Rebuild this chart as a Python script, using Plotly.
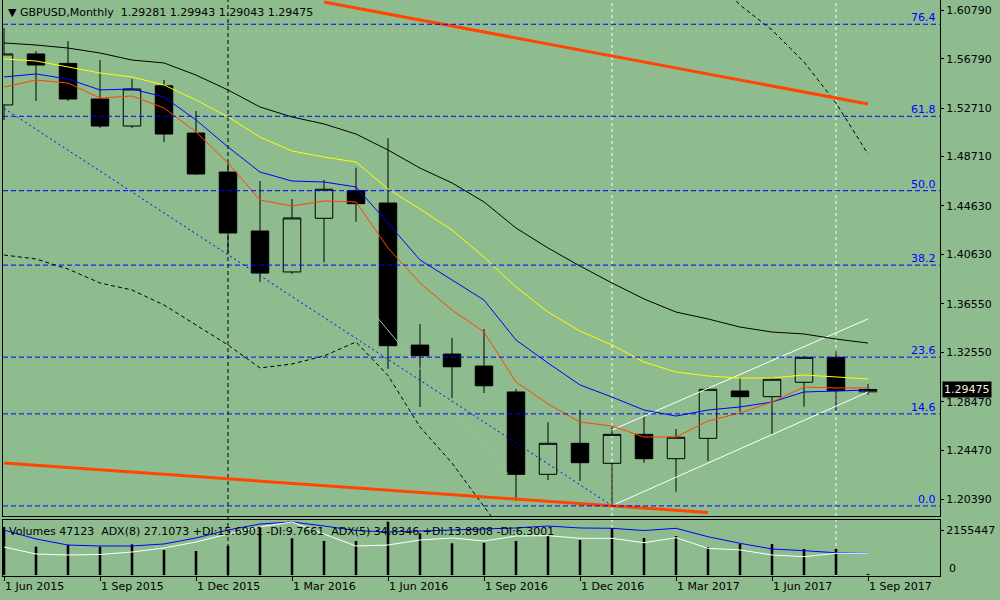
import plotly.graph_objects as go

BG = "#8fbc8f"
FONT = "DejaVu Sans"

months = ["Jun 2015", "Jul 2015", "Aug 2015", "Sep 2015", "Oct 2015", "Nov 2015", "Dec 2015",
          "Jan 2016", "Feb 2016", "Mar 2016", "Apr 2016", "May 2016", "Jun 2016", "Jul 2016",
          "Aug 2016", "Sep 2016", "Oct 2016", "Nov 2016", "Dec 2016", "Jan 2017", "Feb 2017",
          "Mar 2017", "Apr 2017", "May 2017", "Jun 2017", "Jul 2017", "Aug 2017", "Sep 2017"]

opens = [1.5297, 1.5718, 1.5640, 1.5346, 1.5123, 1.5455, 1.5065, 1.4743, 1.4256, 1.3918,
         1.4361, 1.4589, 1.4487, 1.3314, 1.3240, 1.3141, 1.2927, 1.2247, 1.2503, 1.2338,
         1.2577, 1.2376, 1.2544, 1.2935, 1.2888, 1.3007, 1.3213, 1.29281]
highs = [1.5932, 1.5743, 1.5825, 1.5668, 1.5511, 1.5503, 1.5247, 1.4818, 1.4669, 1.4520,
         1.4677, 1.4779, 1.5022, 1.3488, 1.3373, 1.3447, 1.2952, 1.2676, 1.2778, 1.2640,
         1.2723, 1.2621, 1.2965, 1.3048, 1.3045, 1.3224, 1.3265, 1.29943]
lows = [1.5173, 1.5330, 1.5330, 1.5107, 1.5107, 1.4991, 1.4719, 1.4079, 1.3835, 1.3902,
        1.3998, 1.4333, 1.3119, 1.2803, 1.2877, 1.2918, 1.2027, 1.2200, 1.2192, 1.1988,
        1.2343, 1.2103, 1.2357, 1.2764, 1.2580, 1.2805, 1.2772, 1.29043]
closes = [1.5718, 1.5627, 1.5346, 1.5123, 1.5429, 1.5057, 1.4727, 1.4240, 1.3909, 1.4364,
          1.4601, 1.4482, 1.3309, 1.3226, 1.3135, 1.2978, 1.2247, 1.2503, 1.2343, 1.2577,
          1.2376, 1.2553, 1.2949, 1.2888, 1.3032, 1.3213, 1.2938, 1.29475]

# moving averages (black = slowest, red = fastest)
ma_black = [1.5809, 1.5792, 1.5767, 1.5726, 1.5668, 1.5644, 1.5544, 1.5421, 1.5280, 1.5198,
            1.5140, 1.5057, 1.4925, 1.4776, 1.4653, 1.4496, 1.4281, 1.4116, 1.3967, 1.3827,
            1.3695, 1.3587, 1.3530, 1.3463, 1.3422, 1.3406, 1.3364, 1.3331]
ma_yellow = [1.5677, 1.5660, 1.5611, 1.5561, 1.5528, 1.5462, 1.5338, 1.5198, 1.5032, 1.4917,
             1.4867, 1.4826, 1.4603, 1.4438, 1.4264, 1.4041, 1.3794, 1.3587, 1.3430, 1.3315,
             1.3174, 1.3092, 1.3059, 1.3042, 1.3042, 1.3067, 1.3051, 1.3034]
ma_blue = [1.5528, 1.5553, 1.5511, 1.5421, 1.5429, 1.5363, 1.5173, 1.4950, 1.4743, 1.4669,
           1.4661, 1.4620, 1.4322, 1.4017, 1.3852, 1.3686, 1.3356, 1.3166, 1.2985, 1.2885,
           1.2778, 1.2728, 1.2778, 1.2803, 1.2844, 1.2927, 1.2935, 1.2943]
ma_red = [1.5445, 1.5503, 1.5478, 1.5354, 1.5371, 1.5272, 1.5074, 1.4818, 1.4512, 1.4463,
          1.4504, 1.4496, 1.4116, 1.3827, 1.3604, 1.3422, 1.3009, 1.2828, 1.2679, 1.2646,
          1.2555, 1.2555, 1.2687, 1.2753, 1.2844, 1.2968, 1.2960, 1.2960]

# dashed bands, only partly inside the window
band_lower = [1.4058, 1.4025, 1.3942, 1.3827, 1.3769, 1.3645, 1.3480, 1.3315, 1.3125, 1.3158,
              1.3224, 1.3340, 1.3063, 1.2638, 1.2340, 1.1981, 1.1622] + [None] * 11
band_upper = [None] * 22 + [1.6411, 1.6122, 1.5916, 1.5652, 1.5313, 1.4892]

volumes = [2300000, 1356000, 1437000, 1356000, 1470000, 1197000, 1150000, 1389000, 2314000,
           1758000, 1629000, 1629000, 2553000, 1997000, 1518000, 1547000, 1629000, 1916000,
           1676000, 2251000, 1772000, 1868000, 1341000, 1485000, 1485000, 1245000, 1245000, 47123]
adx_blue = [81.8, 65.5, 54.5, 52.7, 52.7, 56.4, 67.3, 81.8, 92.7, 96.4, 89.1, 80.9, 78.2, 80.0,
            82.7, 83.6, 85.5, 89.1, 85.5, 84.9, 80.9, 84.9, 69.6, 57.6, 47.3, 44.2, 40.5, 39.5]
adx_white = [50.9, 38.2, 36.4, 37.3, 41.8, 49.1, 60.0, 74.5, 87.3, 96.4, 74.5, 52.7, 54.5, 63.6,
             67.3, 61.8, 70.9, 71.5, 66.7, 66.7, 58.7, 67.8, 48.5, 45.5, 36.4, 33.3, 39.5, 39.5]

fib_low = 1.1986
fib_high = 1.7192
fib_levels = [0.0, 14.6, 23.6, 38.2, 50.0, 61.8, 76.4]

price_ticks = [1.60790, 1.56790, 1.52710, 1.48710, 1.44630, 1.40630,
               1.36550, 1.32550, 1.28470, 1.24470, 1.20390]
date_tick_pos = [0, 3, 6, 9, 12, 15, 18, 21, 24, 27]
date_tick_text = ["1 Jun 2015", "1 Sep 2015", "1 Dec 2015", "1 Mar 2016", "1 Jun 2016",
                  "1 Sep 2016", "1 Dec 2016", "1 Mar 2017", "1 Jun 2017", "1 Sep 2017"]

# trendlines: (bar index, price) anchors
red_top_x, red_top_y = [10, 27], [1.6147, 1.5305]
red_bottom_x, red_bottom_y = [0, 22], [1.2340, 1.1931]
blue_dotted_x, blue_dotted_y = [0, 19], [1.5269, 1.1988]
white_low_x, white_low_y = [19, 27], [1.1988, 1.2927]
white_high_x, white_high_y = [19, 27], [1.2613, 1.3530]
faint_x, faint_y = [11.6, 15.75], [1.3563, 1.2250]

vline_black = ["Jan 2016"]
vline_white = ["Jan 2017", "Aug 2017"]

xs = list(range(len(months)))

fig = go.Figure()

fig.add_trace(go.Candlestick(
    x=xs, open=opens, high=highs, low=lows, close=closes,
    increasing=dict(line=dict(color="black", width=1), fillcolor="rgba(0,0,0,0)"),
    decreasing=dict(line=dict(color="black", width=1), fillcolor="black"),
    whiskerwidth=0, xaxis="x", yaxis="y",
))

# nearly background-coloured line, only shows where it crosses black bodies
fig.add_trace(go.Scatter(x=faint_x, y=faint_y, mode="lines",
                         line=dict(color="#98c495", width=1)))
fig.add_trace(go.Scatter(x=xs, y=band_lower, mode="lines",
                         line=dict(color="black", width=1, dash="4px,3px")))
fig.add_trace(go.Scatter(x=xs, y=band_upper, mode="lines",
                         line=dict(color="black", width=1, dash="4px,3px")))
fig.add_trace(go.Scatter(x=blue_dotted_x, y=blue_dotted_y, mode="lines",
                         line=dict(color="#0000ff", width=1, dash="2px,3px")))
fig.add_trace(go.Scatter(x=white_low_x, y=white_low_y, mode="lines",
                         line=dict(color="white", width=1)))
fig.add_trace(go.Scatter(x=white_high_x, y=white_high_y, mode="lines",
                         line=dict(color="white", width=1)))
fig.add_trace(go.Scatter(x=red_top_x, y=red_top_y, mode="lines",
                         line=dict(color="#ff4500", width=3)))
fig.add_trace(go.Scatter(x=red_bottom_x, y=red_bottom_y, mode="lines",
                         line=dict(color="#ff4500", width=3)))

for vals, col in [(ma_black, "black"), (ma_yellow, "#ffff00"), (ma_blue, "#0000ff"), (ma_red, "#ff4500")]:
    fig.add_trace(go.Scatter(x=xs, y=vals, mode="lines", line=dict(color=col, width=1)))

# volume panel
fig.add_trace(go.Bar(x=xs, y=volumes, width=0.08, marker=dict(color="black", line=dict(width=0)),
                     xaxis="x2", yaxis="y2"))
fig.add_trace(go.Scatter(x=xs, y=adx_blue, mode="lines", line=dict(color="#0000ff", width=1),
                         xaxis="x2", yaxis="y3"))
fig.add_trace(go.Scatter(x=xs, y=adx_white, mode="lines", line=dict(color="white", width=1),
                         xaxis="x2", yaxis="y3"))

shapes = []
for m in vline_black:
    shapes.append(dict(type="line", xref="x", yref="paper", x0=months.index(m), x1=months.index(m),
                       y0=0, y1=1, layer="below", line=dict(color="black", width=1, dash="4px,3px")))
for m in vline_white:
    shapes.append(dict(type="line", xref="x", yref="paper", x0=months.index(m), x1=months.index(m),
                       y0=0, y1=1, layer="below", line=dict(color="white", width=1, dash="3px,3px")))

annotations = []
for lv in fib_levels:
    price = fib_low + lv / 100 * (fib_high - fib_low)
    shapes.append(dict(type="line", xref="paper", yref="y", x0=0, x1=1, y0=price, y1=price,
                       line=dict(color="#0000ff", width=1, dash="5px,3px")))
    annotations.append(dict(xref="paper", yref="y", x=0.998, y=price, text=f"{lv:.1f}",
                            showarrow=False, xanchor="right", yanchor="bottom", yshift=-2,
                            font=dict(family=FONT, size=11, color="#0000ff")))

annotations.append(dict(xref="paper", yref="paper", x=0.003, y=0.979,
                        text="▼ GBPUSD,Monthly\u00a0\u00a01.29281 1.29943 1.29043 1.29475",
                        showarrow=False, xanchor="left", yanchor="middle",
                        font=dict(family=FONT, size=11, color="black")))
annotations.append(dict(xref="paper", yref="paper", x=0.004, y=0.078,
                        text="Volumes 47123\u00a0\u00a0ADX(8) 27.1073 +DI:15.6901 -DI:9.7661"
                             "\u00a0\u00a0ADX(5) 34.8346 +DI:13.8908 -DI:6.3001",
                        showarrow=False, xanchor="left", yanchor="middle",
                        font=dict(family=FONT, size=11, color="black")))
annotations.append(dict(xref="paper", yref="y", x=1, y=closes[-1], xshift=2,
                        text=f"{closes[-1]:.5f}", showarrow=False, xanchor="left",
                        bgcolor="black", borderpad=1,
                        font=dict(family=FONT, size=11, color="#f0f0e0")))
annotations.append(dict(xref="paper", yref="y2", x=1, y=0, xshift=7, yshift=7, text="0",
                        showarrow=False, xanchor="left",
                        font=dict(family=FONT, size=11, color="black")))

fig.update_layout(
    width=1000, height=600,
    margin=dict(l=3, r=60, t=0, b=24),
    paper_bgcolor=BG, plot_bgcolor=BG,
    showlegend=False, boxgap=0.22, hovermode=False,
    font=dict(family=FONT, size=11, color="black"),
    shapes=shapes, annotations=annotations,
    xaxis=dict(domain=[0, 1], anchor="y", range=[-0.03125, 29.25], showgrid=False, zeroline=False,
               showticklabels=False, ticks="", showline=True, linecolor="black", linewidth=1,
               rangeslider=dict(visible=False)),
    yaxis=dict(domain=[0.10417, 1], anchor="x", side="right", range=[1.19028, 1.61637],
               showgrid=False, zeroline=False, showline=True, linecolor="black", linewidth=1,
               mirror=True, tickvals=price_ticks, ticktext=[f"{p:.5f}" for p in price_ticks],
               ticks="outside", ticklen=3, tickcolor="black"),
    xaxis2=dict(domain=[0, 1], anchor="y2", matches="x", showgrid=False, zeroline=False,
                showline=True, linecolor="black", linewidth=1, mirror=True,
                tickvals=date_tick_pos, ticktext=date_tick_text, ticks="outside", ticklen=4,
                tickcolor="black", ticklabelposition="outside right"),
    yaxis2=dict(domain=[0, 0.09722], anchor="x2", side="right", range=[-47899, 2634445],
                showgrid=False, zeroline=False, showline=True, linecolor="black", linewidth=1,
                mirror=True, tickvals=[2155447], ticktext=["2155447"], ticks="outside",
                ticklen=3, tickcolor="black"),
    yaxis3=dict(overlaying="y2", range=[-1.818, 100], visible=False),
)

# the page's default body margin would push the 1000x600 figure off the window
fig.write_html("out.html", config={"displayModeBar": False},
               post_script="document.body.style.margin='0';")
